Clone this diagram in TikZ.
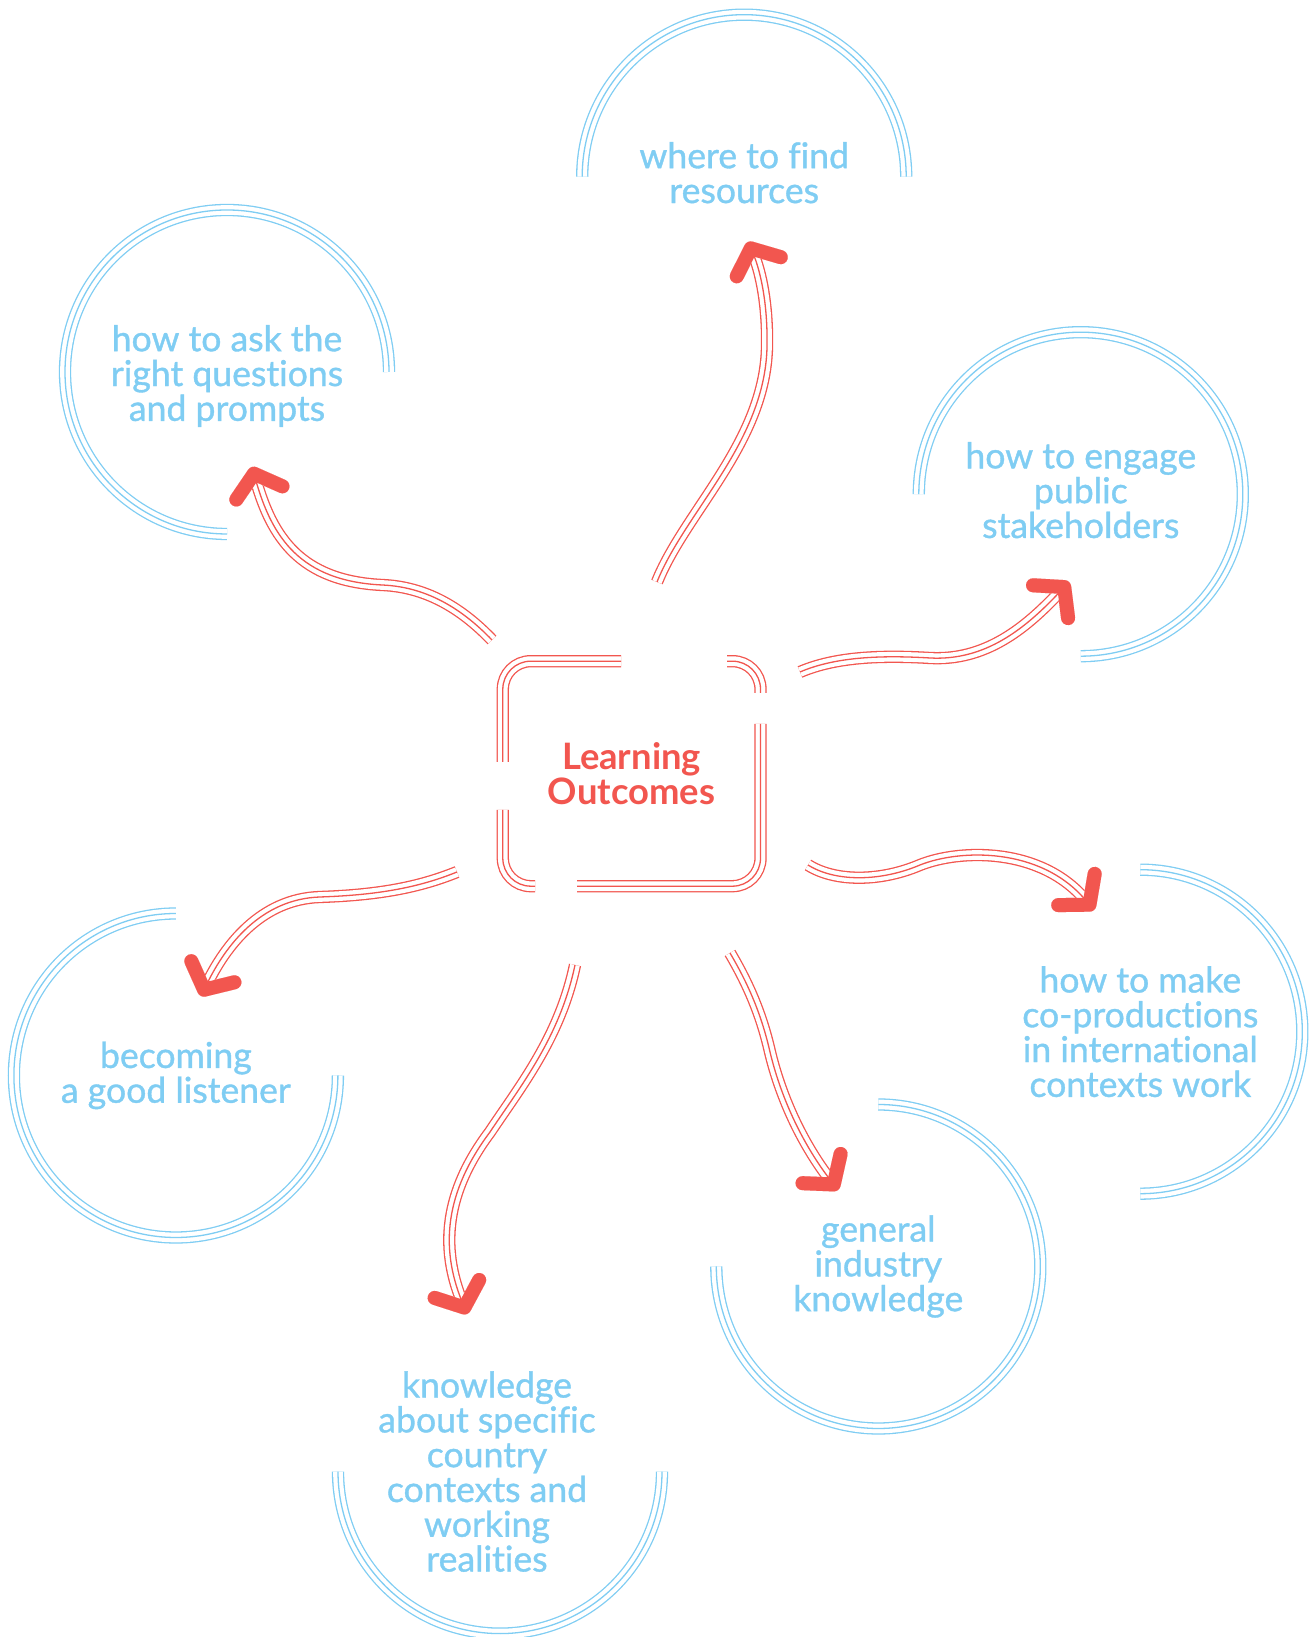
\documentclass[tikz,border=0pt]{standalone}
\usepackage{fontspec}
\setmainfont{Lato}
\newfontfamily\goalfont{Lato}[FakeBold=1, Ligatures=NoCommon]
\usetikzlibrary{arrows.meta,calc}
\definecolor{coral}{HTML}{F2564F}
\definecolor{sky}{HTML}{7FCDF3}
\tikzset{
  tri/.style={draw=#1, line width=0.65pt,
              preaction={draw=#1, line width=6.15pt},
              preaction={draw=white, line width=4.85pt}},
  ring/.style={tri=sky},
  flow/.style={tri=coral, -{Straight Barb[length=10pt, width=24pt, line width=7pt, round]}},
  goal/.style={text=sky, align=center, font=\goalfont\fontsize{17.8}{17.4}\selectfont},
  hub/.style={text=coral, align=center, font=\bfseries\fontsize{18.2}{17.5}\selectfont}
}

\begin{document}
\begin{tikzpicture}[x=0.5pt, y=0.5pt]
  \useasboundingbox (0,0) rectangle (1314,1637);
  \fill[white] (0,0) rectangle (1314,1637);

  % centre
  \node[hub] (outcomes) at (631.5,863.5) {Learning\\Outcomes};
  \begin{scope}[rounded corners=14pt]
    \draw[tri=coral] (502.8,875) |- (621,975.8);
    \draw[tri=coral] (727,975.8) -| (760.5,944);
    \draw[tri=coral] (760.5,913) |- (577,750.8);
    \draw[tri=coral] (535,750.8) -| (502.8,827);
  \end{scope}

  % ring centres
  \coordinate (c1) at (744.2,1460.3);
  \coordinate (c2) at (227,1265);
  \coordinate (c3) at (1080.8,1142.8);
  \coordinate (c4) at (1140.3,605.3);
  \coordinate (c5) at (878.3,370.5);
  \coordinate (c6) at (500,165.4);
  \coordinate (c7) at (175.9,561.5);

  \node[goal, yshift=2pt] (resources) at (c1) {where to find\\resources};
  \node[goal, yshift=-2pt] (questions) at (c2) {how to ask the\\right questions\\and prompts};
  \node[goal, yshift=2pt] (stakeholders) at (c3) {how to engage\\public\\stakeholders};
  \node[goal] (coproductions) at (c4) {how to make\\co-productions\\in international\\contexts work};
  \node[goal] (industry) at (c5) {general\\industry\\knowledge};
  \node[goal, xshift=-6.5pt] (country) at (c6) {knowledge\\about specific\\country\\contexts and\\working\\realities};
  \node[goal] (listener) at (c7) {becoming\\a good listener};

  \draw[ring] ([shift={(180:162)}]c1) arc[start angle=180, end angle=0, radius=162];
  \draw[ring] ([shift={(270:162)}]c2) arc[start angle=270, end angle=0, radius=162];
  \draw[ring] ([shift={(180:162)}]c3) arc[start angle=180, end angle=-90, radius=162];
  \draw[ring] ([shift={(90:162)}]c4) arc[start angle=90, end angle=-90, radius=162];
  \draw[ring] ([shift={(90:162)}]c5) arc[start angle=90, end angle=-180, radius=162];
  \draw[ring] ([shift={(180:162)}]c6) arc[start angle=180, end angle=360, radius=162];
  \draw[ring] ([shift={(90:162)}]c7) arc[start angle=90, end angle=360, radius=162];

  % arrow ends
  \coordinate (from1) at (657,1055);  \coordinate (to1) at (748,1395);
  \coordinate (from2) at (492,997);   \coordinate (to2) at (252,1170);
  \coordinate (from3) at (800,965);   \coordinate (to3) at (1069,1055);
  \coordinate (from4) at (808,772);   \coordinate (to4) at (1094,727);
  \coordinate (from5) at (730,684);   \coordinate (to5) at (838,447);
  \coordinate (from6) at (575,672);   \coordinate (to6) at (467,323);
  \coordinate (from7) at (457,765);   \coordinate (to7) at (201,641);

  \draw[flow] (from1) .. controls (685,1125) and (765,1195) .. (767,1290)
              .. controls (768,1340) and (758,1372) .. (to1);
  \draw[flow] (from2) .. controls (465,1025) and (430,1050) .. (382,1052)
              .. controls (300,1056) and (272,1100) .. (to2);
  \draw[flow] (from3) .. controls (835,980) and (880,982) .. (930,979)
              .. controls (985,976) and (1025,1008) .. (to3);
  \draw[flow] (from4) .. controls (835,755) and (880,755) .. (920,772)
              .. controls (960,788) and (1040,790) .. (to4);
  \draw[flow] (from5) .. controls (750,650) and (762,620) .. (770,585)
              .. controls (782,535) and (805,490) .. (to5);
  \draw[flow] (from6) .. controls (560,600) and (520,550) .. (490,505)
              .. controls (445,445) and (440,390) .. (to6);
  \draw[flow] (from7) .. controls (420,750) and (380,742) .. (320,740)
              .. controls (260,738) and (225,690) .. (to7);
\end{tikzpicture}
\end{document}
